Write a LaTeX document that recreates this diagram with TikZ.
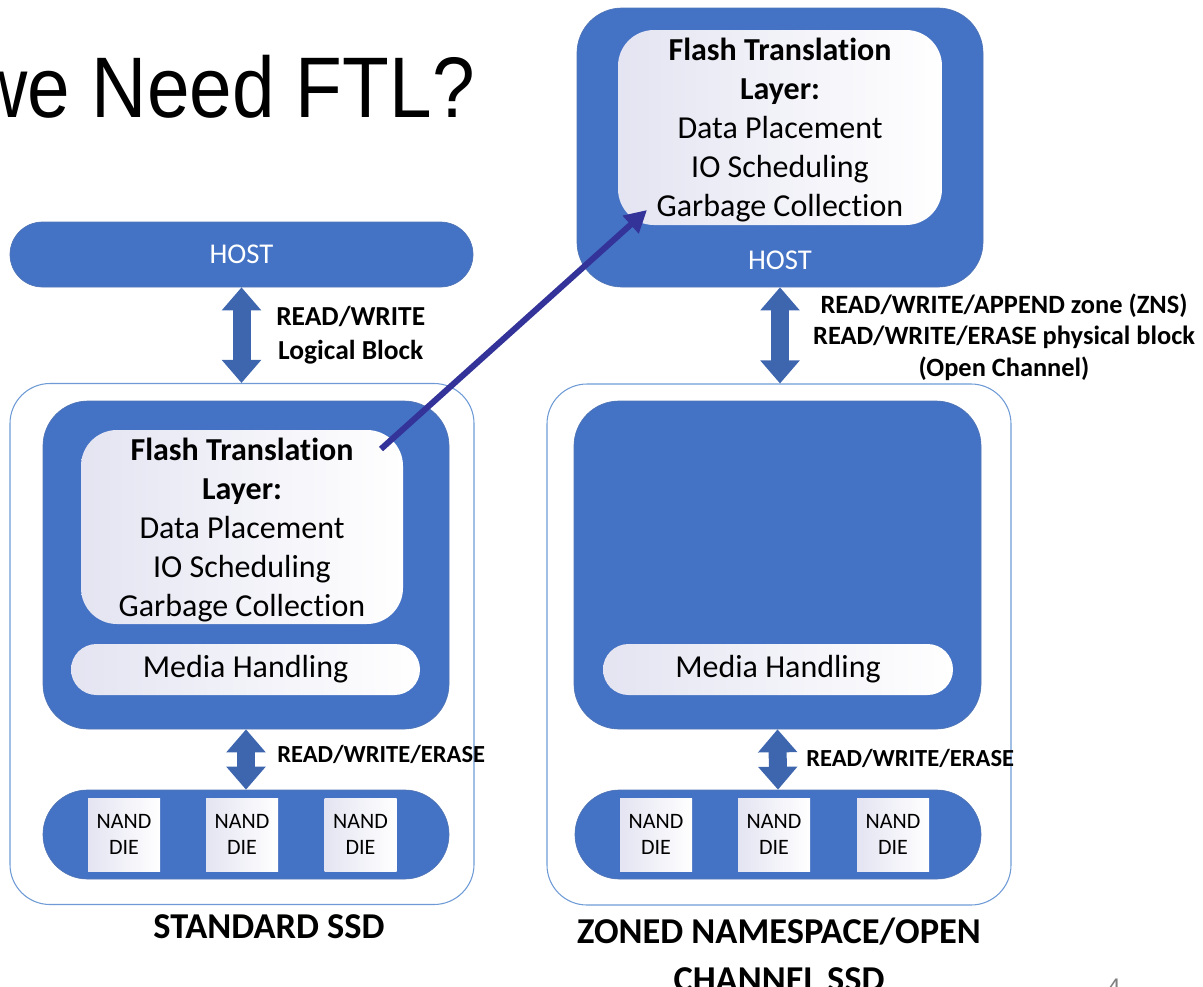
\documentclass[tikz,border=0pt]{standalone}
\usepackage{fontspec}
\setmainfont{Carlito}[Ligatures=NoCommon]
\newfontfamily\titlefont{Liberation Sans}
\usetikzlibrary{arrows.meta}

\definecolor{boxblue}{HTML}{4472C4}
\definecolor{arrowblue}{HTML}{3D66AE}
\definecolor{edgeblue}{HTML}{6E9BD6}
\definecolor{navy}{HTML}{333399}
\definecolor{lav}{HTML}{E4E4F2}
\newdimen\pxu \pxu=0.75pt

\begin{document}
\begin{tikzpicture}[x=0.75pt,y=-0.75pt,
  bluebox/.style={draw=boxblue!80!gray, line width=0.5pt, fill=boxblue,
    rounded corners=#1, inner sep=0pt},
  whitebox/.style={draw=none, left color=lav, right color=white,
    rounded corners=#1, inner sep=0pt, align=center,
    font=\fontsize{24}{29.25}\selectfont},
  ssdbox/.style={draw=edgeblue, line width=0.8pt, rounded corners=40\pxu,
    minimum width=464\pxu, minimum height=521\pxu, inner sep=0pt},
  diebox/.style={draw=none, left color=lav, right color=white, inner sep=0pt,
    minimum width=72\pxu, minimum height=73\pxu, align=center,
    font=\fontsize{16.5}{20}\selectfont},
  hosttext/.style={text=white, font=\fontsize{21.5}{24}\selectfont},
  fatlink/.style={draw=arrowblue, line width=13.5pt,
    {Triangle[length=17.25pt,width=28.5pt]}-{Triangle[length=17.25pt,width=28.5pt]}},
  linklabel/.style 2 args={font=\bfseries\fontsize{#1}{#2}\selectfont, inner sep=0pt, align=center},
  caption/.style={font=\bfseries\fontsize{27.3}{36}\selectfont, inner sep=0pt, align=center},
  jump/.style={draw=navy, line width=4.5pt,
    -{Triangle[length=16.5pt,width=17pt]}}
]
\useasboundingbox (0,0) rectangle (1203,986);

% slide title
\node[anchor=base east, inner sep=0pt] (title) at (475,117)
  {\titlefont\fontsize{64.5}{70}\selectfont\scalebox{0.89}[1]{we Need FTL?}};

% ---------- standard SSD ----------
\node[bluebox=32.5\pxu, minimum width=463\pxu, minimum height=65\pxu, hosttext]
  (hostL) at (241.5,254.5) {HOST};
\node[ssdbox] (ssdL) at (242,644) {};
\node[bluebox=45\pxu, minimum width=406\pxu, minimum height=328\pxu] (ctrlL) at (246,565) {};
\node[whitebox=36\pxu, minimum width=322\pxu, minimum height=194\pxu] (ftlL) at (242,527)
  {\rule{0pt}{21pt}\textbf{Flash Translation}\\\textbf{Layer:}\\Data Placement\\IO Scheduling\\Garbage Collection};
\node[whitebox=25.5\pxu, minimum width=349\pxu, minimum height=51\pxu] (mediaL) at (245.5,669.5)
  {Media Handling};
\node[bluebox=44.5\pxu, minimum width=406\pxu, minimum height=89\pxu] (nandL) at (246,834.5) {};
\node[diebox] (dieL1) at (124,834.5) {NAND\\DIE};
\node[diebox] (dieL2) at (242,834.5) {NAND\\DIE};
\node[diebox] (dieL3) at (360.5,834.5) {NAND\\DIE};

\draw[fatlink] (hostL.south) -- (hostL.south |- ssdL.north);
\draw[fatlink] (ctrlL.south) -- (nandL.north);

\node[linklabel={20.6}{25.5}, anchor=west] (lblL1) at (276,335) {READ/WRITE\\Logical Block};
\node[linklabel={18.4}{22}, anchor=west] (lblL2) at (277,754) {READ/WRITE/ERASE};
\node[caption] (capL) at (269,927) {STANDARD SSD};

% ---------- zoned namespace / open channel SSD ----------
\node[bluebox=45\pxu, minimum width=406\pxu, minimum height=279\pxu] (hostR) at (780,147.5) {};
\node[whitebox=36\pxu, minimum width=324\pxu, minimum height=195\pxu] (ftlR) at (780,127.5)
  {\rule{0pt}{21pt}\textbf{Flash Translation}\\\textbf{Layer:}\\Data Placement\\IO Scheduling\\Garbage Collection};
\node[hosttext] (hostRlbl) at (780,260) {HOST};
\node[ssdbox] (ssdR) at (779,644.5) {};
\node[bluebox=45\pxu, minimum width=407\pxu, minimum height=328\pxu] (ctrlR) at (777.5,565) {};
\node[whitebox=25.5\pxu, minimum width=350\pxu, minimum height=51\pxu] (mediaR) at (778,669.5)
  {Media Handling};
\node[bluebox=44.5\pxu, minimum width=406\pxu, minimum height=89\pxu] (nandR) at (778,834.5) {};
\node[diebox] (dieR1) at (656,834.5) {NAND\\DIE};
\node[diebox] (dieR2) at (774,834.5) {NAND\\DIE};
\node[diebox] (dieR3) at (893,834.5) {NAND\\DIE};

\draw[fatlink] (hostR.south) -- (hostR.south |- ssdR.north);
\draw[fatlink] (ctrlR.south) -- (nandR.north);

\node[linklabel={19.8}{23.6}] (lblR1) at (1004,337)
  {READ/WRITE/APPEND zone (ZNS)\\READ/WRITE/ERASE physical block\\(Open Channel)};
\node[linklabel={18.4}{22}, anchor=west] (lblR2) at (806,758) {READ/WRITE/ERASE};
\node[caption] (capR) at (779,955) {ZONED NAMESPACE/OPEN\\CHANNEL SSD};

% the FTL moves from the device to the host
\coordinate (ftlFrom) at (381,449);
\coordinate (ftlTo) at (647,210);
\draw[jump] (ftlFrom) -- (ftlTo);

% page number
\node[anchor=north, inner sep=0pt, text=gray, font=\titlefont\fontsize{18}{20}\selectfont]
  (pageno) at (1114,979) {4};
\end{tikzpicture}
\end{document}
